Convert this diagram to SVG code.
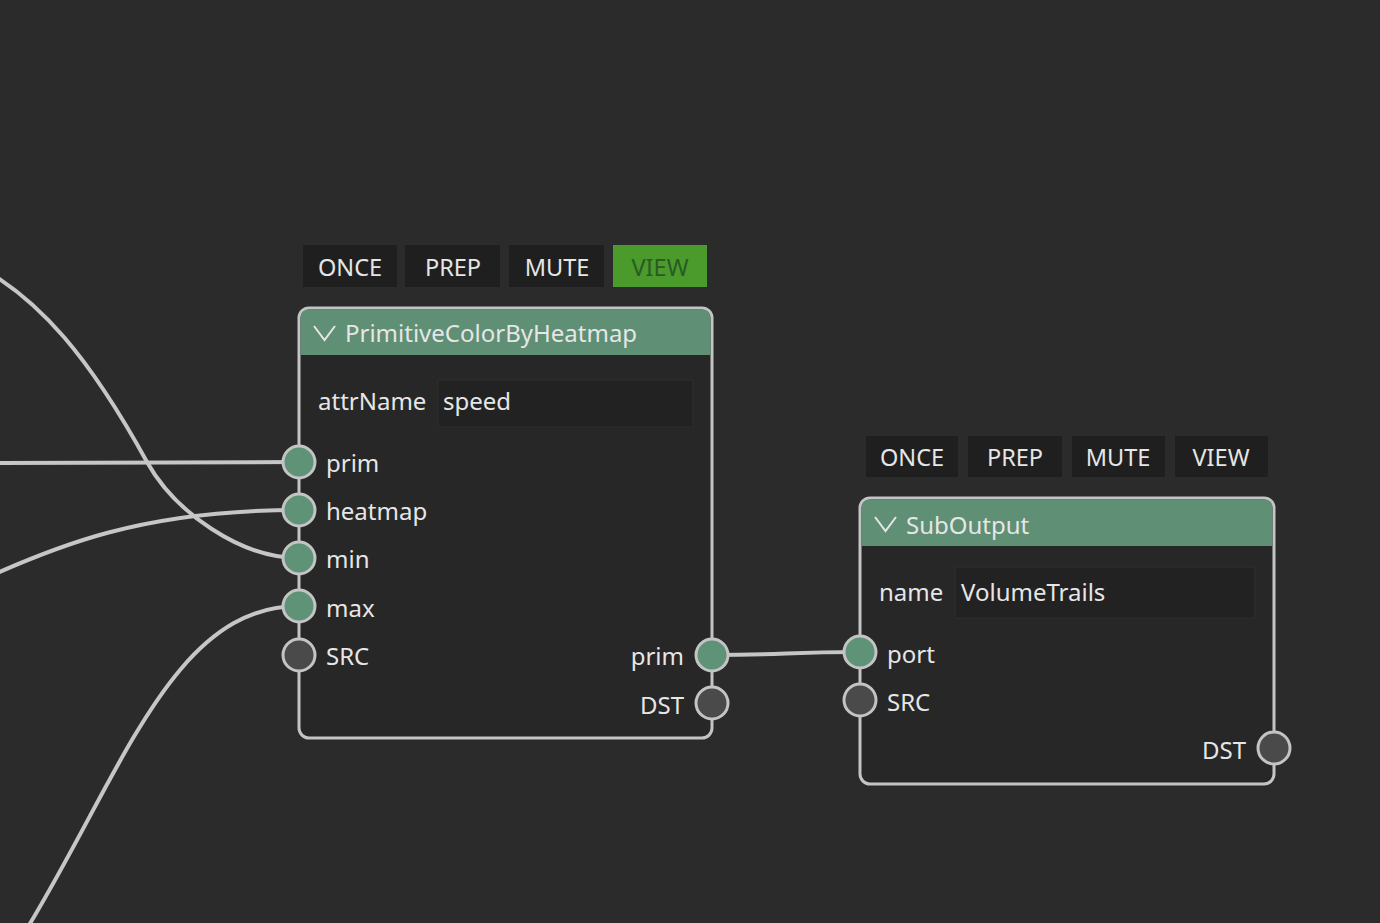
<svg xmlns="http://www.w3.org/2000/svg" width="1380" height="923" viewBox="0 0 1380 923">
<style>
text{font-family:"Noto Sans","Open Sans",sans-serif;font-size:24px;fill:#e6e6e6}
.btn{fill:#1f1f1f}
.btnon{fill:#4a9a2c}
.btxt{font-size:23.5px;text-anchor:middle}
.btxton{font-size:23.5px;text-anchor:middle;fill:#2b5a24}
.body{fill:#272727;stroke:#c4c4c4;stroke-width:3}
.head{fill:#5f8f74}
.inp{fill:#222222;stroke:#2f2f2f;stroke-width:1}
.sg{fill:#5f9377;stroke:#c4c4c4;stroke-width:3}
.sd{fill:#4a4a4a;stroke:#c4c4c4;stroke-width:3}
.wire{fill:none;stroke:#c6c6c6;stroke-width:4}
.chev{fill:none;stroke:#e6e6e6;stroke-width:2}
.r{text-anchor:end}
</style>
<rect width="1380" height="923" fill="#2b2b2b"/>
<g id="connectors">
<path class="wire" d="M -10,463 L 299,462"/>
<path class="wire" d="M -60,600 C 60,540 150,510 299,510"/>
<path class="wire" d="M -30,262 C 40,296 92,362 147,462 C 175,512 240,558 299,558"/>
<path class="wire" d="M 20,940 C 120,780 170,606 299,606"/>
<path class="wire" d="M 712,655 C 786,655 786,652 860,652"/>
</g>
<g id="node-primitivecolorbyheatmap">
<rect class="btn" x="303" y="245" width="94" height="42"/>
<text class="btxt" x="350" y="276">ONCE</text>
<rect class="btn" x="405" y="245" width="95" height="42"/>
<text class="btxt" x="453" y="276">PREP</text>
<rect class="btn" x="509" y="245" width="95" height="42"/>
<text class="btxt" x="557" y="276">MUTE</text>
<rect class="btnon" x="613" y="245" width="94" height="42"/>
<text class="btxton" x="660" y="276">VIEW</text>
<rect class="body" x="299" y="308" width="413" height="430" rx="10"/>
<path class="head" d="M 300.5,355 L 300.5,318 Q 300.5,309.5 309,309.5 L 702,309.5 Q 710.5,309.5 710.5,318 L 710.5,355 Z"/>
<path class="chev" d="M 314,326 L 324.5,340 L 335,326"/>
<text x="345" y="342">PrimitiveColorByHeatmap</text>
<text x="318" y="410">attrName</text>
<rect class="inp" x="438" y="380" width="255" height="47"/>
<text x="443" y="410">speed</text>
<circle class="sg" cx="299" cy="462" r="16"/>
<circle class="sg" cx="299" cy="510" r="16"/>
<circle class="sg" cx="299" cy="558" r="16"/>
<circle class="sg" cx="299" cy="606" r="16"/>
<circle class="sd" cx="299" cy="655" r="16"/>
<text x="326" y="472">prim</text>
<text x="326" y="520">heatmap</text>
<text x="326" y="568">min</text>
<text x="326" y="617">max</text>
<text x="326" y="665">SRC</text>
<circle class="sg" cx="712" cy="655" r="16"/>
<circle class="sd" cx="712" cy="703" r="16"/>
<text class="r" x="684" y="665">prim</text>
<text class="r" x="684" y="714">DST</text>
</g>
<g id="node-suboutput">
<rect class="btn" x="866" y="436" width="92" height="41"/>
<text class="btxt" x="912" y="466">ONCE</text>
<rect class="btn" x="968" y="436" width="94" height="41"/>
<text class="btxt" x="1015" y="466">PREP</text>
<rect class="btn" x="1072" y="436" width="93" height="41"/>
<text class="btxt" x="1118" y="466">MUTE</text>
<rect class="btn" x="1175" y="436" width="93" height="41"/>
<text class="btxt" x="1221" y="466">VIEW</text>
<rect class="body" x="860" y="498" width="414" height="286" rx="10"/>
<path class="head" d="M 861.5,546 L 861.5,508 Q 861.5,499.5 870,499.5 L 1264,499.5 Q 1272.5,499.5 1272.5,508 L 1272.5,546 Z"/>
<path class="chev" d="M 875,517 L 885.5,531 L 896,517"/>
<text x="906" y="534">SubOutput</text>
<text x="879" y="601">name</text>
<rect class="inp" x="955" y="567" width="300" height="51"/>
<text x="961" y="601">VolumeTrails</text>
<circle class="sg" cx="860" cy="652" r="16"/>
<circle class="sd" cx="860" cy="700" r="16"/>
<text x="887" y="663">port</text>
<text x="887" y="711">SRC</text>
<circle class="sd" cx="1274" cy="748" r="16"/>
<text class="r" x="1246" y="759">DST</text>
</g>
</svg>
